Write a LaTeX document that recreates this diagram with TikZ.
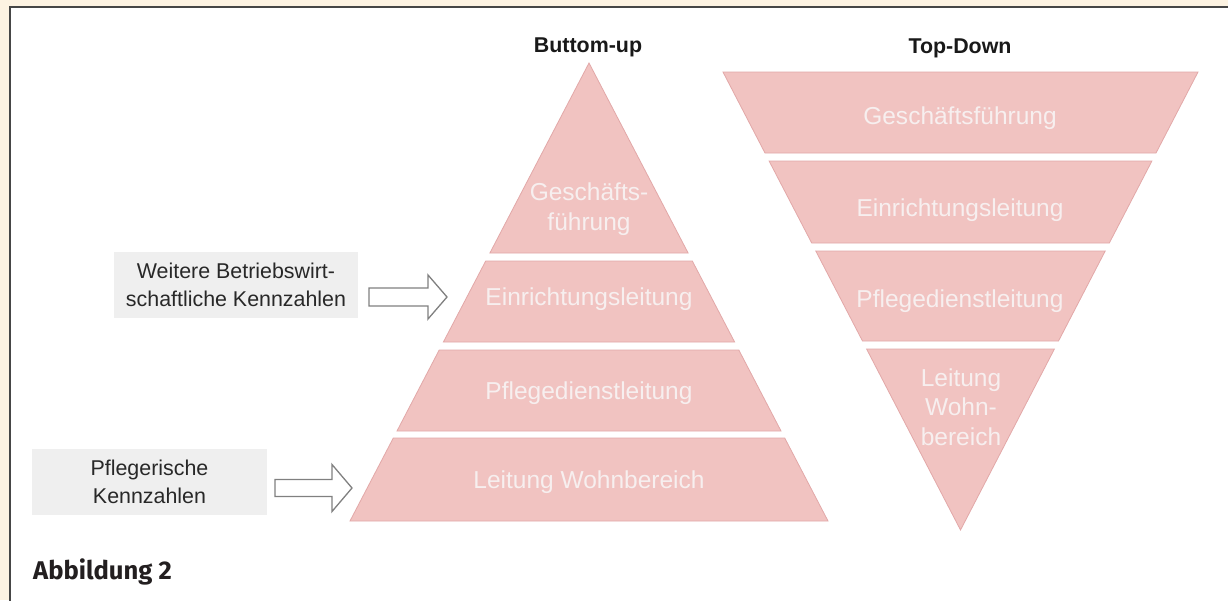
\documentclass[tikz,border=0pt]{standalone}
\usepackage{fontspec}
\setmainfont{Liberation Sans}
\newfontfamily\capfont{Fira Sans}
\definecolor{beige}{RGB}{253,243,226}
\definecolor{framegray}{RGB}{70,70,70}
\definecolor{bandpink}{RGB}{241,195,193}
\definecolor{bandedge}{RGB}{226,168,168}
\definecolor{bandtext}{RGB}{247,239,239}
\definecolor{boxgray}{RGB}{239,239,239}
\definecolor{boxtext}{RGB}{40,40,40}
\definecolor{arrowgray}{RGB}{128,128,128}
\definecolor{titletext}{RGB}{25,25,25}
\definecolor{captext}{RGB}{35,31,32}
\begin{document}
\begin{tikzpicture}[x=1pt,y=-1pt,
  band/.style={fill=bandpink, draw=bandedge, line width=0.8pt, line join=miter},
  bandlabel/.style={text=bandtext, align=center, inner sep=0pt,
    font=\fontsize{24.5}{29.5}\selectfont},
  infobox/.style={fill=boxgray, text=boxtext, align=center, inner sep=0pt,
    font=\fontsize{21.4}{27.5}\selectfont},
  title/.style={text=titletext, inner sep=0pt, font=\bfseries\fontsize{21.4}{25}\selectfont},
  blockarrow/.style={fill=white, draw=arrowgray, line width=1.3pt, line join=miter}
]
\useasboundingbox (0,0) rectangle (1228,600);
\fill[beige] (0,0) rectangle (1228,600);
\draw[fill=white, draw=framegray, line width=2pt] (10,7) rectangle (1240,612);

% Bottom-up pyramid
\path[band] (589,63) -- (688.1,253) -- (489.9,253) -- cycle;
\path[band] (485.7,261) -- (692.3,261) -- (734.6,342) -- (443.4,342) -- cycle;
\path[band] (439.2,350) -- (738.8,350) -- (781.0,431) -- (397.0,431) -- cycle;
\path[band] (393.3,438) -- (784.7,438) -- (828,521) -- (350,521) -- cycle;

\node[title] (tbu) at (588,47) {Buttom-up};
\node[bandlabel] (bu1) at (589,209) {Geschäfts-\\führung};
\node[bandlabel] (bu2) at (589,299) {Einrichtungsleitung};
\node[bandlabel] (bu3) at (589,393) {Pflegedienstleitung};
\node[bandlabel] (bu4) at (589,482) {Leitung Wohnbereich};

% Top-down pyramid
\path[band] (723,72) -- (1198,72) -- (1156.0,153) -- (765.0,153) -- cycle;
\path[band] (769.1,161) -- (1151.9,161) -- (1109.3,243) -- (811.7,243) -- cycle;
\path[band] (815.8,251) -- (1105.2,251) -- (1058.5,341) -- (862.5,341) -- cycle;
\path[band] (866.6,349) -- (1054.4,349) -- (960.5,530) -- cycle;

\node[title] (ttd) at (960,48) {Top-Down};
\node[bandlabel] (td1) at (960,118) {Geschäftsführung};
\node[bandlabel] (td2) at (960,210) {Einrichtungsleitung};
\node[bandlabel] (td3) at (960,301) {Pflegedienstleitung};
\node[bandlabel] (td4) at (961,407) {Leitung\\Wohn-\\bereich};

% Info boxes
\node[infobox, minimum width=244pt, minimum height=66pt] (box1) at (236,285)
  {Weitere Betriebswirt-\\schaftliche Kennzahlen};
\node[infobox, minimum width=235pt, minimum height=66pt] (box2) at (149.5,482)
  {Pflegerische\\Kennzahlen};

% Block arrows
\coordinate (a1) at (369,297);
\coordinate (a2) at (275,488);
\path[blockarrow] (a1) ++(0,-9) -- ++(59,0) -- ++(0,-13) -- ++(19,22) -- ++(-19,22)
  -- ++(0,-13) -- ++(-59,0) -- cycle;
\path[blockarrow] (a2) ++(0,-8.5) -- ++(57,0) -- ++(0,-15) -- ++(20,23.5) -- ++(-20,23.5)
  -- ++(0,-15) -- ++(-57,0) -- cycle;

% Caption
\node[anchor=west, inner sep=0pt, text=captext, font=\capfont\bfseries\fontsize{25.6}{30}\selectfont]
  (cap) at (33,572) {Abbildung 2};
\end{tikzpicture}
\end{document}
